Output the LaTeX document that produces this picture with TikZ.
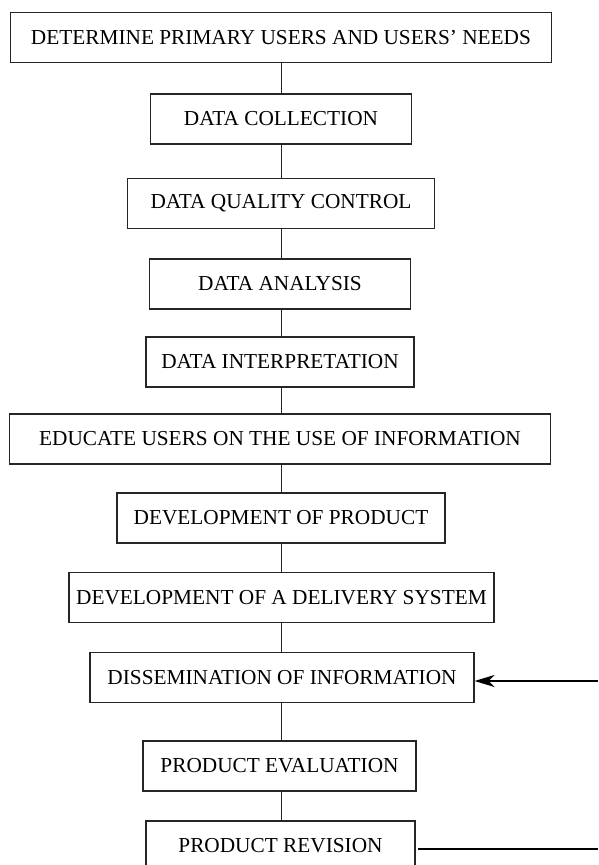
\documentclass[tikz,border=0pt]{standalone}
\usepackage{fontspec}
\setmainfont{Liberation Serif}
\usetikzlibrary{arrows.meta}
\begin{document}
\begin{tikzpicture}[x=1pt,y=-1pt,
  stepbox/.style={draw=black!85, line width=1.1pt, inner sep=0pt,
    minimum height=50pt, font=\fontsize{21.3}{24}\selectfont, text=black},
  link/.style={draw=black!85, line width=0.9pt},
  feed/.style={draw=black, line width=1.9pt}]
\useasboundingbox (0,0) rectangle (598,865);
\clip (0,0) rectangle (598,865);
\node[stepbox, minimum width=541pt] (users) at (281,37.5) {DETERMINE PRIMARY USERS AND USERS’ NEEDS};
\node[stepbox, minimum width=261pt] (coll) at (281,119) {DATA COLLECTION};
\node[stepbox, minimum width=307pt] (qc) at (281,203.5) {DATA QUALITY CONTROL};
\node[stepbox, minimum width=261pt] (anal) at (280,284) {DATA ANALYSIS};
\node[stepbox, minimum width=268pt] (interp) at (280,362) {DATA INTERPRETATION};
\node[stepbox, minimum width=541pt] (educ) at (280,439) {EDUCATE USERS ON THE USE OF INFORMATION};
\node[stepbox, minimum width=328pt] (prod) at (281,518) {DEVELOPMENT OF PRODUCT};
\node[stepbox, minimum width=425pt] (deliv) at (281.5,597.5) {DEVELOPMENT OF A DELIVERY SYSTEM};
\node[stepbox, minimum width=384pt] (dissem) at (282,677.5) {DISSEMINATION OF INFORMATION};
\node[stepbox, minimum width=273pt] (eval) at (279.5,766) {PRODUCT EVALUATION};
\node[stepbox, minimum width=269pt] (rev) at (280.5,846) {PRODUCT REVISION};
% vertical links down the chain
\foreach \a/\b in {users/coll, coll/qc, qc/anal, anal/interp, interp/educ,
                   educ/prod, prod/deliv, deliv/dissem, dissem/eval, eval/rev}
  \draw[link] (\a.south -| 281,0) -- (\b.north -| 281,0);
% feedback entering and leaving at the right edge
\coordinate (fbin) at (598,681);
\coordinate (fbout) at (598,849);
\draw[feed, -{Stealth[length=20pt, width=12pt, inset=6pt]}] (fbin) -- (fbin -| dissem.east);
\draw[feed] ([xshift=2pt]fbout -| rev.east) -- (fbout);
\end{tikzpicture}
\end{document}
